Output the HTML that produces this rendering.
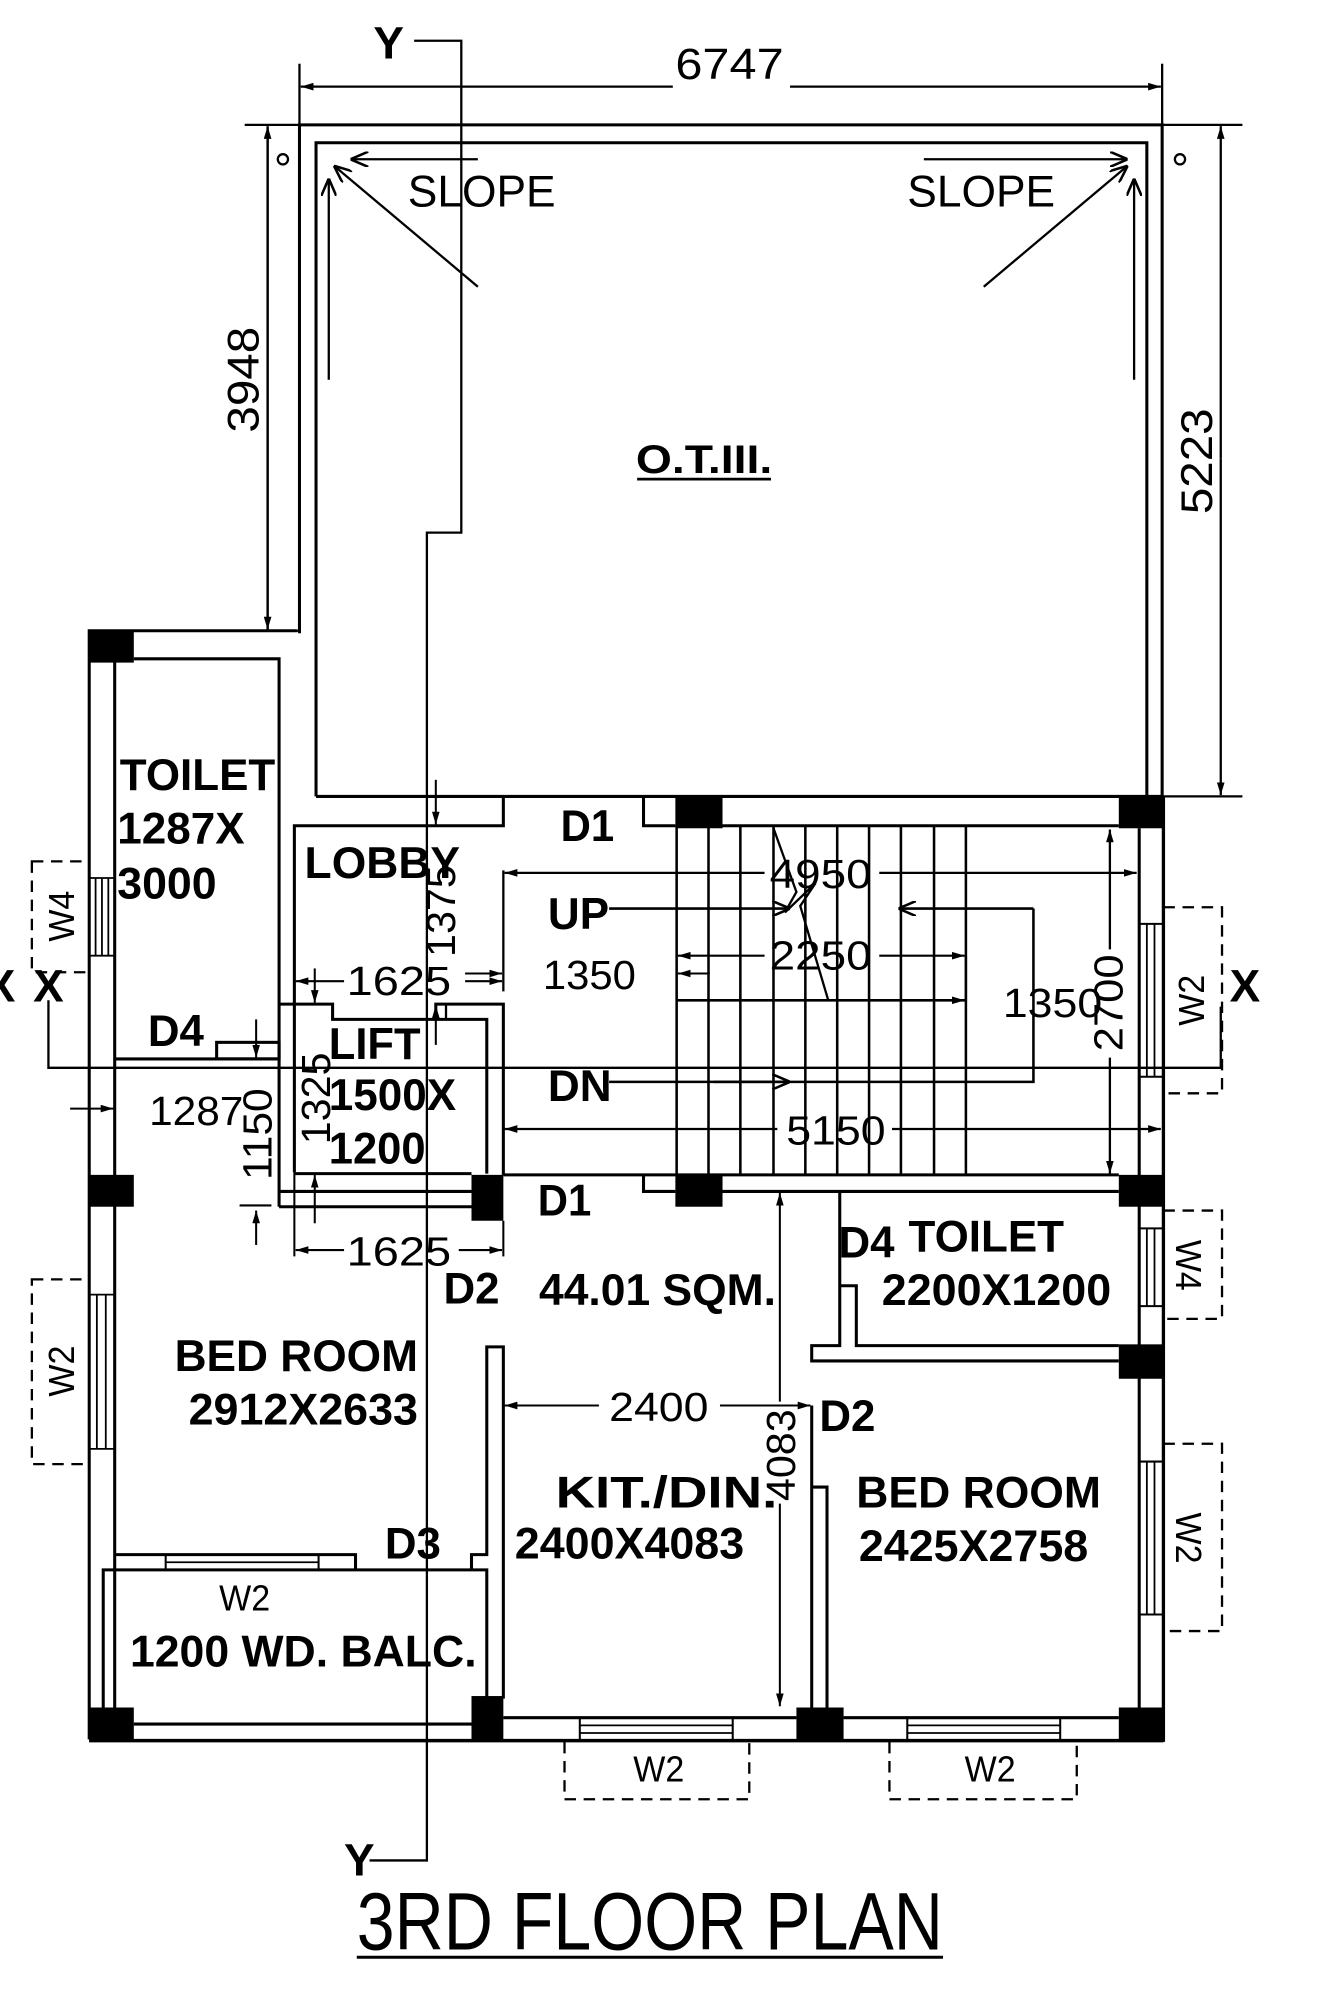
<!DOCTYPE html>
<html><head><meta charset="utf-8"><style>
html,body{margin:0;padding:0;background:#fff}
svg{display:block}
text{font-family:"Liberation Sans",sans-serif;fill:#000}
.b{font-weight:bold;font-size:35px}
.n{font-size:33px}
</style></head><body>
<svg width="1338" height="1996" viewBox="0 0 1050 1566.4" xmlns="http://www.w3.org/2000/svg">
<defs>
<marker id="a" viewBox="0 0 10 6" refX="10" refY="3" markerWidth="10" markerHeight="6" markerUnits="userSpaceOnUse" orient="auto"><path d="M0,0L10,3L0,6z" fill="#000"/></marker>
<marker id="o" viewBox="0 0 14 12" refX="14" refY="6" markerWidth="14" markerHeight="12" markerUnits="userSpaceOnUse" orient="auto"><path d="M0,0L14,6L0,12" fill="none" stroke="#000" stroke-width="2"/></marker>
</defs>
<g stroke="#000" fill="none" stroke-width="2.4">
<line x1="235" y1="50" x2="235" y2="98" stroke-width="1.8"/>
<line x1="912" y1="50" x2="912" y2="98" stroke-width="1.8"/>
<line x1="528" y1="68" x2="236" y2="68" stroke-width="1.8" marker-end="url(#a)"/>
<line x1="620" y1="68" x2="911" y2="68" stroke-width="1.8" marker-end="url(#a)"/>
<polyline points="235,497 235,98 912,98 912,625"/>
<polyline points="248,625 248,112 900,112 900,625"/>
<line x1="192" y1="98" x2="235" y2="98" stroke-width="1.8"/>
<line x1="912" y1="98" x2="975" y2="98" stroke-width="1.8"/>
<line x1="912" y1="625" x2="975" y2="625" stroke-width="1.8"/>
<circle cx="222" cy="125" r="4" stroke-width="1.8"/>
<circle cx="926" cy="125" r="4" stroke-width="1.8"/>
<line x1="210" y1="495" x2="210" y2="99" stroke-width="1.8" marker-end="url(#a)"/>
<line x1="210" y1="100" x2="210" y2="494" stroke-width="1.8" marker-end="url(#a)"/>
<line x1="192" y1="495" x2="235" y2="495" stroke-width="1.8"/>
<line x1="958" y1="360" x2="958" y2="99" stroke-width="1.8" marker-end="url(#a)"/>
<line x1="958" y1="360" x2="958" y2="624" stroke-width="1.8" marker-end="url(#a)"/>
<polyline points="325,32 362,32 362,418 335,418 335,1460 290,1460" stroke-width="1.8"/>
<line x1="375" y1="125" x2="275" y2="125" stroke-width="1.8" marker-end="url(#o)"/>
<line x1="375" y1="225" x2="262" y2="130" stroke-width="1.8" marker-end="url(#o)"/>
<line x1="258" y1="298" x2="258" y2="140" stroke-width="1.8" marker-end="url(#o)"/>
<line x1="725" y1="125" x2="885" y2="125" stroke-width="1.8" marker-end="url(#o)"/>
<line x1="772" y1="225" x2="885" y2="130" stroke-width="1.8" marker-end="url(#o)"/>
<line x1="890" y1="298" x2="890" y2="140" stroke-width="1.8" marker-end="url(#o)"/>
<line x1="248" y1="625" x2="912" y2="625"/>
<polyline points="231,920 231,648 395,648 395,625"/>
<polyline points="505,625 505,648 530,648"/>
<line x1="567" y1="648" x2="878" y2="648"/>
<polyline points="70,1365 70,495 233,495"/>
<polyline points="90,1340 90,517"/>
<polyline points="105,517 219,517 219,947"/>
<line x1="90" y1="831" x2="219" y2="831"/>
<rect x="170" y="818" width="49" height="13"/>
<line x1="201" y1="800" x2="201" y2="830" stroke-width="1.6" marker-end="url(#a)"/>
<rect x="25" y="676" width="45" height="87" stroke-width="1.8" stroke-dasharray="9,6"/>
<line x1="75" y1="689" x2="75" y2="750" stroke-width="1.4"/><line x1="80" y1="689" x2="80" y2="750" stroke-width="1.4"/><line x1="85" y1="689" x2="85" y2="750" stroke-width="1.4"/>
<line x1="70" y1="689" x2="90" y2="689" stroke-width="1.4"/><line x1="70" y1="750" x2="90" y2="750" stroke-width="1.4"/>
<polyline points="38,785 38,838 958,838 958,790" stroke-width="1.8"/>
<line x1="231" y1="921" x2="370" y2="921"/>
<polyline points="219,788 261,788 261,800 382,800 382,921"/>
<polyline points="342,800 342,788 395,788 395,922"/>
<line x1="350" y1="788" x2="350" y2="800" stroke-width="1.8"/>
<line x1="219" y1="935" x2="370" y2="935"/>
<line x1="219" y1="947" x2="370" y2="947"/>
<line x1="247" y1="760" x2="247" y2="787" stroke-width="1.6" marker-end="url(#a)"/>
<line x1="342" y1="612" x2="342" y2="647" stroke-width="1.6" marker-end="url(#a)"/>
<line x1="342" y1="820" x2="342" y2="789" stroke-width="1.6" marker-end="url(#a)"/>
<line x1="247" y1="960" x2="247" y2="922" stroke-width="1.6" marker-end="url(#a)"/>
<line x1="270" y1="770" x2="232" y2="770" stroke-width="1.6" marker-end="url(#a)"/>
<line x1="365" y1="770" x2="394" y2="770" stroke-width="1.6" marker-end="url(#a)"/>
<line x1="365" y1="764" x2="394" y2="764" stroke-width="1.6" marker-end="url(#a)"/>
<line x1="395" y1="683" x2="395" y2="778" stroke-width="1.8"/>
<line x1="600" y1="685" x2="396" y2="685" stroke-width="1.8" marker-end="url(#a)"/>
<line x1="690" y1="685" x2="892" y2="685" stroke-width="1.8" marker-end="url(#a)"/>
<g stroke-width="2">
<line x1="531" y1="648" x2="531" y2="922"/><line x1="556" y1="648" x2="556" y2="922"/><line x1="581" y1="648" x2="581" y2="922"/><line x1="607" y1="648" x2="607" y2="922"/><line x1="632" y1="648" x2="632" y2="922"/><line x1="657" y1="648" x2="657" y2="922"/><line x1="682" y1="648" x2="682" y2="922"/><line x1="707" y1="648" x2="707" y2="922"/><line x1="733" y1="648" x2="733" y2="922"/><line x1="758" y1="648" x2="758" y2="922"/>
</g>
<line x1="531" y1="785" x2="758" y2="785" stroke-width="2"/>
<polyline points="478,713 620,713" stroke-width="2" marker-end="url(#o)"/>
<polyline points="811,713 811,849 478,849" stroke-width="2"/>
<line x1="560" y1="849" x2="620" y2="849" stroke-width="2" marker-end="url(#o)"/>
<line x1="811" y1="713" x2="705" y2="713" stroke-width="2" marker-end="url(#o)"/>
<polyline points="607,650 625,700 616,716 640,693 628,711 650,785" stroke-width="1.8"/>
<line x1="600" y1="750" x2="532" y2="750" stroke-width="1.6" marker-end="url(#a)"/>
<line x1="690" y1="750" x2="757" y2="750" stroke-width="1.6" marker-end="url(#a)"/>
<line x1="557" y1="764" x2="532" y2="764" stroke-width="1.6" marker-end="url(#a)"/>
<line x1="690" y1="785" x2="757" y2="785" stroke-width="1.6" marker-end="url(#a)"/>
<line x1="758" y1="750" x2="758" y2="785" stroke-width="1.8"/>
<line x1="610" y1="886" x2="396" y2="886" stroke-width="1.8" marker-end="url(#a)"/>
<line x1="700" y1="886" x2="911" y2="886" stroke-width="1.8" marker-end="url(#a)"/>
<line x1="871" y1="745" x2="871" y2="651" stroke-width="1.8" marker-end="url(#a)"/>
<line x1="871" y1="830" x2="871" y2="921" stroke-width="1.8" marker-end="url(#a)"/>
<line x1="913" y1="625" x2="913" y2="1367" stroke-width="2.6"/>
<line x1="894" y1="650" x2="894" y2="1340"/>
<line x1="894" y1="725" x2="913" y2="725" stroke-width="1.6"/><line x1="894" y1="845" x2="913" y2="845" stroke-width="1.6"/>
<line x1="900" y1="725" x2="900" y2="845" stroke-width="1.4"/><line x1="906" y1="725" x2="906" y2="845" stroke-width="1.4"/>
<rect x="913" y="712" width="46" height="146" stroke-width="1.8" stroke-dasharray="9,6"/>
<line x1="894" y1="964" x2="913" y2="964" stroke-width="1.6"/><line x1="894" y1="1025" x2="913" y2="1025" stroke-width="1.6"/>
<line x1="900" y1="964" x2="900" y2="1025" stroke-width="1.4"/><line x1="906" y1="964" x2="906" y2="1025" stroke-width="1.4"/>
<rect x="913" y="950" width="46" height="85" stroke-width="1.8" stroke-dasharray="9,6"/>
<line x1="894" y1="1147" x2="913" y2="1147" stroke-width="1.6"/><line x1="894" y1="1267" x2="913" y2="1267" stroke-width="1.6"/>
<line x1="900" y1="1147" x2="900" y2="1267" stroke-width="1.4"/><line x1="906" y1="1147" x2="906" y2="1267" stroke-width="1.4"/>
<rect x="913" y="1133" width="46" height="147" stroke-width="1.8" stroke-dasharray="9,6"/>
<line x1="395" y1="922" x2="878" y2="922"/>
<polyline points="505,922 505,935 530,935"/>
<line x1="567" y1="935" x2="878" y2="935"/>
<line x1="231" y1="920" x2="231" y2="986" stroke-width="1.6"/>
<line x1="395" y1="958" x2="395" y2="986" stroke-width="1.6"/>
<line x1="270" y1="981" x2="232" y2="981" stroke-width="1.6" marker-end="url(#a)"/>
<line x1="360" y1="981" x2="394" y2="981" stroke-width="1.6" marker-end="url(#a)"/>
<line x1="188" y1="946" x2="213" y2="946" stroke-width="1.6"/>
<line x1="201" y1="977" x2="201" y2="950" stroke-width="1.6" marker-end="url(#a)"/>
<line x1="55" y1="870" x2="89" y2="870" stroke-width="1.6" marker-end="url(#a)"/>
<polyline points="659,935 659,1056 637,1056 637,1068 878,1068"/>
<polyline points="659,1009 672,1009 672,1056 878,1056"/>
<line x1="612" y1="1100" x2="612" y2="936" stroke-width="1.6" marker-end="url(#a)"/>
<line x1="612" y1="1180" x2="612" y2="1339" stroke-width="1.6" marker-end="url(#a)"/>
<polyline points="637,1103 637,1340"/>
<polyline points="637,1167 649,1167 649,1340"/>
<line x1="470" y1="1103" x2="396" y2="1103" stroke-width="1.6" marker-end="url(#a)"/>
<line x1="565" y1="1103" x2="636" y2="1103" stroke-width="1.6" marker-end="url(#a)"/>
<rect x="25" y="1004" width="45" height="145" stroke-width="1.8" stroke-dasharray="9,6"/>
<line x1="70" y1="1016" x2="90" y2="1016" stroke-width="1.4"/><line x1="70" y1="1137" x2="90" y2="1137" stroke-width="1.4"/>
<line x1="76" y1="1016" x2="76" y2="1137" stroke-width="1.4"/><line x1="83" y1="1016" x2="83" y2="1137" stroke-width="1.4"/>
<polyline points="90,1220 279,1220 279,1232"/>
<line x1="130" y1="1220" x2="130" y2="1232" stroke-width="1.6"/><line x1="250" y1="1220" x2="250" y2="1232" stroke-width="1.6"/>
<line x1="130" y1="1226" x2="250" y2="1226" stroke-width="1.4"/>
<polyline points="81,1340 81,1232 382,1232 382,1333"/>
<polyline points="370,1232 370,1220 382,1220 382,1057 395,1057 395,1333"/>
<line x1="105" y1="1353" x2="370" y2="1353"/>
<line x1="70" y1="1366" x2="913" y2="1366" stroke-width="2.8"/>
<line x1="395" y1="1348" x2="625" y2="1348"/>
<line x1="662" y1="1348" x2="878" y2="1348"/>
<line x1="455" y1="1348" x2="455" y2="1366" stroke-width="1.6"/><line x1="575" y1="1348" x2="575" y2="1366" stroke-width="1.6"/>
<line x1="455" y1="1354" x2="575" y2="1354" stroke-width="1.4"/><line x1="455" y1="1360" x2="575" y2="1360" stroke-width="1.4"/>
<line x1="712" y1="1348" x2="712" y2="1366" stroke-width="1.6"/><line x1="832" y1="1348" x2="832" y2="1366" stroke-width="1.6"/>
<line x1="712" y1="1354" x2="832" y2="1354" stroke-width="1.4"/><line x1="712" y1="1360" x2="832" y2="1360" stroke-width="1.4"/>
<polyline points="443,1367 443,1412 588,1412 588,1367" stroke-width="1.8" stroke-dasharray="9,6"/>
<polyline points="698,1367 698,1412 845,1412 845,1367" stroke-width="1.8" stroke-dasharray="9,6"/>
<line x1="280" y1="1536" x2="740" y2="1536" stroke-width="2.4"/>
<line x1="500" y1="376" x2="605" y2="376" stroke-width="2.2"/>
</g>
<g fill="#000">
<rect x="70" y="495" width="35" height="25"/>
<rect x="70" y="922" width="35" height="25"/>
<rect x="70" y="1340" width="35" height="27"/>
<rect x="370" y="922" width="25" height="36"/>
<rect x="370" y="1331" width="25" height="36"/>
<rect x="530" y="625" width="37" height="25"/>
<rect x="878" y="625" width="35" height="25"/>
<rect x="530" y="922" width="37" height="25"/>
<rect x="878" y="922" width="35" height="25"/>
<rect x="878" y="1055" width="35" height="27"/>
<rect x="625" y="1340" width="37" height="27"/>
<rect x="878" y="1340" width="35" height="27"/>
</g>
<g>
<text x="530" y="62" class="n" style="font-size:34px" textLength="85" lengthAdjust="spacingAndGlyphs">6747</text>
<text x="293" y="46" class="b" style="font-size:36px">Y</text>
<text x="270" y="1472" class="b" style="font-size:36px">Y</text>
<text x="26" y="786" class="b" style="font-size:36px">X</text>
<text x="-12" y="786" class="b" style="font-size:36px">X</text>
<text x="965" y="786" class="b" style="font-size:36px">X</text>
<text x="320" y="162" class="n" style="font-size:35px" textLength="116" lengthAdjust="spacingAndGlyphs">SLOPE</text>
<text x="712" y="162" class="n" style="font-size:35px" textLength="116" lengthAdjust="spacingAndGlyphs">SLOPE</text>
<text x="499" y="371" class="b" style="font-size:31px" textLength="107" lengthAdjust="spacingAndGlyphs">O.T.III.</text>
<text transform="translate(203,298) rotate(-90)" text-anchor="middle" class="n" style="font-size:35px" textLength="83" lengthAdjust="spacingAndGlyphs">3948</text>
<text transform="translate(951,362) rotate(-90)" text-anchor="middle" class="n" style="font-size:35px" textLength="83" lengthAdjust="spacingAndGlyphs">5223</text>
<text x="94" y="620" class="b" textLength="122" lengthAdjust="spacingAndGlyphs">TOILET</text>
<text x="92" y="662" class="b" textLength="100" lengthAdjust="spacingAndGlyphs">1287X</text>
<text x="92" y="705" class="b" textLength="78" lengthAdjust="spacingAndGlyphs">3000</text>
<text transform="translate(58,719) rotate(-90)" text-anchor="middle" class="n" style="font-size:28px" textLength="40" lengthAdjust="spacingAndGlyphs">W4</text>
<text x="239" y="689" class="b" textLength="122" lengthAdjust="spacingAndGlyphs">LOBBY</text>
<text transform="translate(357,715) rotate(-90)" text-anchor="middle" class="n" style="font-size:32px" textLength="72" lengthAdjust="spacingAndGlyphs">1375</text>
<text x="440" y="660" class="b" textLength="42" lengthAdjust="spacingAndGlyphs">D1</text>
<text x="430" y="729" class="b" textLength="48" lengthAdjust="spacingAndGlyphs">UP</text>
<text x="426" y="776" class="n" style="font-size:32px" textLength="73" lengthAdjust="spacingAndGlyphs">1350</text>
<text x="272" y="781" class="n" style="font-size:32px" textLength="82" lengthAdjust="spacingAndGlyphs">1625</text>
<text x="604" y="697" class="n" style="font-size:32px" textLength="80" lengthAdjust="spacingAndGlyphs">4950</text>
<text x="604" y="761" class="n" style="font-size:32px" textLength="80" lengthAdjust="spacingAndGlyphs">2250</text>
<text x="787" y="798" class="n" style="font-size:32px" textLength="78" lengthAdjust="spacingAndGlyphs">1350</text>
<text transform="translate(881,787) rotate(-90)" text-anchor="middle" class="n" style="font-size:32px" textLength="76" lengthAdjust="spacingAndGlyphs">2700</text>
<text transform="translate(945,785) rotate(-90)" text-anchor="middle" class="n" style="font-size:28px" textLength="40" lengthAdjust="spacingAndGlyphs">W2</text>
<text x="116" y="821" class="b" textLength="44" lengthAdjust="spacingAndGlyphs">D4</text>
<text x="258" y="831" class="b" textLength="72" lengthAdjust="spacingAndGlyphs">LIFT</text>
<text x="258" y="871" class="b" textLength="100" lengthAdjust="spacingAndGlyphs">1500X</text>
<text x="258" y="913" class="b" textLength="76" lengthAdjust="spacingAndGlyphs">1200</text>
<text transform="translate(259,862) rotate(-90)" text-anchor="middle" class="n" style="font-size:32px" textLength="72" lengthAdjust="spacingAndGlyphs">1325</text>
<text transform="translate(213,890) rotate(-90)" text-anchor="middle" class="n" style="font-size:32px" textLength="72" lengthAdjust="spacingAndGlyphs">1150</text>
<text x="117" y="883" class="n" style="font-size:32px" textLength="74" lengthAdjust="spacingAndGlyphs">1287</text>
<text x="430" y="864" class="b" textLength="50" lengthAdjust="spacingAndGlyphs">DN</text>
<text x="617" y="898" class="n" style="font-size:32px" textLength="78" lengthAdjust="spacingAndGlyphs">5150</text>
<text x="422" y="954" class="b" textLength="42" lengthAdjust="spacingAndGlyphs">D1</text>
<text x="272" y="993" class="n" style="font-size:32px" textLength="82" lengthAdjust="spacingAndGlyphs">1625</text>
<text x="348" y="1023" class="b" textLength="44" lengthAdjust="spacingAndGlyphs">D2</text>
<text x="423" y="1024" class="b" textLength="186" lengthAdjust="spacingAndGlyphs">44.01 SQM.</text>
<text x="658" y="987" class="b" textLength="44" lengthAdjust="spacingAndGlyphs">D4</text>
<text x="713" y="982" class="b" textLength="122" lengthAdjust="spacingAndGlyphs">TOILET</text>
<text x="692" y="1024" class="b" textLength="180" lengthAdjust="spacingAndGlyphs">2200X1200</text>
<text transform="translate(923,993) rotate(90)" text-anchor="middle" class="n" style="font-size:28px" textLength="40" lengthAdjust="spacingAndGlyphs">W4</text>
<text x="137" y="1076" class="b" textLength="191" lengthAdjust="spacingAndGlyphs">BED ROOM</text>
<text x="148" y="1118" class="b" textLength="180" lengthAdjust="spacingAndGlyphs">2912X2633</text>
<text transform="translate(58,1076) rotate(-90)" text-anchor="middle" class="n" style="font-size:28px" textLength="40" lengthAdjust="spacingAndGlyphs">W2</text>
<text x="478" y="1115" class="n" style="font-size:32px" textLength="78" lengthAdjust="spacingAndGlyphs">2400</text>
<text transform="translate(624,1142) rotate(-90)" text-anchor="middle" class="n" style="font-size:32px" textLength="72" lengthAdjust="spacingAndGlyphs">4083</text>
<text x="643" y="1123" class="b" textLength="44" lengthAdjust="spacingAndGlyphs">D2</text>
<text x="436" y="1183" class="b" textLength="174" lengthAdjust="spacingAndGlyphs">KIT./DIN.</text>
<text x="404" y="1223" class="b" textLength="180" lengthAdjust="spacingAndGlyphs">2400X4083</text>
<text x="672" y="1183" class="b" textLength="192" lengthAdjust="spacingAndGlyphs">BED ROOM</text>
<text x="674" y="1225" class="b" textLength="180" lengthAdjust="spacingAndGlyphs">2425X2758</text>
<text transform="translate(923,1207) rotate(90)" text-anchor="middle" class="n" style="font-size:28px" textLength="40" lengthAdjust="spacingAndGlyphs">W2</text>
<text x="302" y="1223" class="b" textLength="44" lengthAdjust="spacingAndGlyphs">D3</text>
<text x="172" y="1264" class="n" style="font-size:28px" textLength="40" lengthAdjust="spacingAndGlyphs">W2</text>
<text x="102" y="1308" class="b" textLength="272" lengthAdjust="spacingAndGlyphs">1200 WD. BALC.</text>
<text x="497" y="1398" class="n" style="font-size:28px" textLength="40" lengthAdjust="spacingAndGlyphs">W2</text>
<text x="757" y="1398" class="n" style="font-size:28px" textLength="40" lengthAdjust="spacingAndGlyphs">W2</text>
<text x="280" y="1530" class="n" style="font-size:64px" textLength="460" lengthAdjust="spacingAndGlyphs">3RD  FLOOR PLAN</text>
</g>
</svg>
</body></html>
